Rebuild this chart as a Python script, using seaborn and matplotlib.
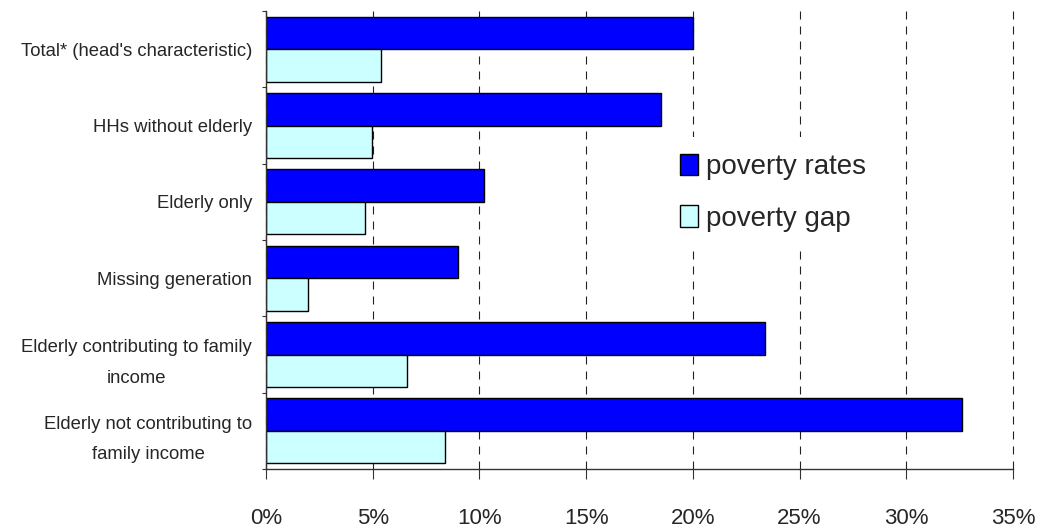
import numpy as np
import pandas as pd
import matplotlib
matplotlib.use("Agg")
import matplotlib.pyplot as plt
import seaborn as sns
from matplotlib.ticker import FuncFormatter

# Household groups (top to bottom) and the two measures, in percent
categories = [
    "Total* (head's characteristic)",
    "HHs without elderly",
    "Elderly only",
    "Missing generation",
    "Elderly contributing to family\nincome",
    "Elderly not contributing to\nfamily income",
]
poverty_rates = [20.0, 18.5, 10.2, 9.0, 23.4, 32.6]
poverty_gap = [5.4, 4.95, 4.65, 1.95, 6.6, 8.4]
series_names = ["poverty rates", "poverty gap"]
x_ticks = [0, 5, 10, 15, 20, 25, 30, 35]

df = pd.DataFrame({
    "category": categories * 2,
    "value": poverty_rates + poverty_gap,
    "series": [series_names[0]] * len(categories) + [series_names[1]] * len(categories),
})

sns.set_style("white")
plt.rcParams["font.family"] = ["Liberation Sans", "DejaVu Sans"]

fig = plt.figure(figsize=(10.48, 5.30), dpi=100)
W, H = 1048, 530
ax = fig.add_axes([266 / W, 1 - 469 / H, (1013 - 266) / W, (469 - 11) / H])

sns.barplot(
    data=df, y="category", x="value", hue="series",
    order=categories, hue_order=series_names,
    palette=["#0000FF", "#CCFFFF"], saturation=1,
    orient="h", width=0.85, edgecolor="black", linewidth=1.0,
    ax=ax,
)

ax.set_axisbelow(True)
ax.set_xlim(0, 35)
ax.set_ylim(len(categories) - 0.5, -0.5)
ax.set_xlabel("")
ax.set_ylabel("")

# x axis: percent ticks with dashed vertical gridlines
ax.set_xticks(x_ticks)
ax.xaxis.set_major_formatter(FuncFormatter(lambda v, p: f"{v:.0f}%"))
ax.xaxis.grid(True, color="#222222", linewidth=0.8, linestyle=(0, (7.2, 6.3)))
ax.yaxis.grid(False)
for gl in ax.get_xgridlines():
    gl.set_clip_on(False)
ax.tick_params(axis="x", which="major", bottom=True, direction="out",
               length=7, width=0.8, color="#333333", pad=21, labelsize=16)

# y axis: labels at group centres, short ticks at group boundaries
ax.set_yticks(np.arange(-0.5, len(categories), 1.0), minor=True)
ax.tick_params(axis="y", which="major", left=False, length=0, pad=10, labelsize=13.3)
ax.tick_params(axis="y", which="minor", left=True, direction="out",
               length=3, width=0.8, color="#333333")
for lbl in ax.get_yticklabels():
    lbl.set_multialignment("center")
    lbl.set_linespacing(2.05)

for side in ("top", "right"):
    ax.spines[side].set_visible(False)
for side in ("left", "bottom"):
    ax.spines[side].set_color("#333333")
    ax.spines[side].set_linewidth(1.0)

handles, labels = ax.get_legend_handles_labels()
ax.legend(
    handles, labels, loc="upper left",
    bbox_to_anchor=(663 / W, 1 - 137 / H), bbox_transform=fig.transFigure,
    borderaxespad=0, borderpad=0.6, frameon=True, facecolor="white",
    edgecolor="none", framealpha=1, fancybox=False, fontsize=20,
    handlelength=0.65, handleheight=0.83, handletextpad=0.3, labelspacing=0.9,
)

fig.savefig("out.png", dpi=100)
